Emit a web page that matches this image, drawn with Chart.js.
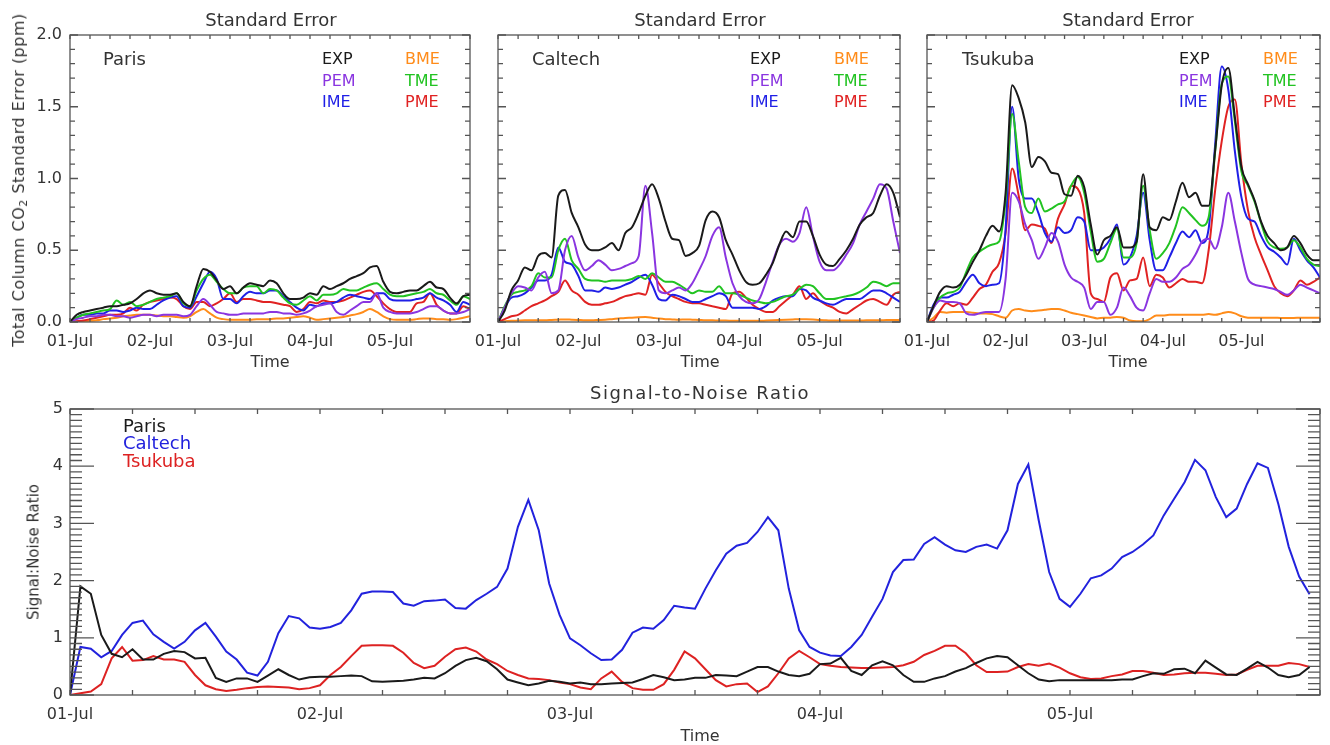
<!DOCTYPE html>
<html>
<head>
<meta charset="utf-8">
<script src="https://cdn.jsdelivr.net/npm/chart.js@4.4.1/dist/chart.umd.min.js"></script>
<style>
  body { margin: 0; background: #fff; }
  #wrap { position: relative; width: 1330px; height: 745px; overflow: hidden; background: #fff; }
  canvas { position: absolute; }
  .t { position: absolute; white-space: nowrap; font-family: 'DejaVu Sans', sans-serif; color: #333; line-height: 1; }
  .c { transform: translate(-50%, -50%); }
  .l { transform: translate(0, -50%); }
  .r { transform: translate(-50%, -50%) rotate(-90deg); }
</style>
</head>
<body>
<div id="wrap">
  <canvas id="pParis" width="480" height="375" style="left:0;top:0"></canvas>
  <canvas id="pCaltech" width="470" height="375" style="left:440px;top:0"></canvas>
  <canvas id="pTsukuba" width="460" height="375" style="left:870px;top:0"></canvas>
  <canvas id="pSnr" width="1330" height="365" style="left:0;top:380px"></canvas>

  <!-- top panel titles -->
  <div class="t c" style="left:271px;top:20px;font-size:18px">Standard Error</div>
  <div class="t c" style="left:700px;top:20px;font-size:18px">Standard Error</div>
  <div class="t c" style="left:1128px;top:20px;font-size:18px">Standard Error</div>
  <div class="t r" style="left:20px;top:180px;font-size:16px;letter-spacing:0.5px">Total Column CO<sub style="font-size:11px;vertical-align:-3px">2</sub> Standard Error (ppm)</div>
  <div class="t c" style="left:270px;top:362px;font-size:16px">Time</div>
  <div class="t c" style="left:700px;top:362px;font-size:16px">Time</div>
  <div class="t c" style="left:1128px;top:362px;font-size:16px">Time</div>

  <!-- station names -->
  <div class="t l" style="left:103px;top:59px;font-size:18px">Paris</div>
  <div class="t l" style="left:532px;top:59px;font-size:18px">Caltech</div>
  <div class="t l" style="left:962px;top:59px;font-size:18px">Tsukuba</div>

  <!-- legends, panel 1 -->
  <div class="t l" style="left:322px;top:59px;font-size:16px;color:#1a1a1a">EXP</div>
  <div class="t l" style="left:322px;top:81px;font-size:16px;color:#8a35e0">PEM</div>
  <div class="t l" style="left:322px;top:102px;font-size:16px;color:#1f1fe6">IME</div>
  <div class="t l" style="left:405px;top:59px;font-size:16px;color:#ff8c1a">BME</div>
  <div class="t l" style="left:405px;top:81px;font-size:16px;color:#22c322">TME</div>
  <div class="t l" style="left:405px;top:102px;font-size:16px;color:#e02222">PME</div>
  <!-- legends, panel 2 -->
  <div class="t l" style="left:750px;top:59px;font-size:16px;color:#1a1a1a">EXP</div>
  <div class="t l" style="left:750px;top:81px;font-size:16px;color:#8a35e0">PEM</div>
  <div class="t l" style="left:750px;top:102px;font-size:16px;color:#1f1fe6">IME</div>
  <div class="t l" style="left:834px;top:59px;font-size:16px;color:#ff8c1a">BME</div>
  <div class="t l" style="left:834px;top:81px;font-size:16px;color:#22c322">TME</div>
  <div class="t l" style="left:834px;top:102px;font-size:16px;color:#e02222">PME</div>
  <!-- legends, panel 3 -->
  <div class="t l" style="left:1179px;top:59px;font-size:16px;color:#1a1a1a">EXP</div>
  <div class="t l" style="left:1179px;top:81px;font-size:16px;color:#8a35e0">PEM</div>
  <div class="t l" style="left:1179px;top:102px;font-size:16px;color:#1f1fe6">IME</div>
  <div class="t l" style="left:1263px;top:59px;font-size:16px;color:#ff8c1a">BME</div>
  <div class="t l" style="left:1263px;top:81px;font-size:16px;color:#22c322">TME</div>
  <div class="t l" style="left:1263px;top:102px;font-size:16px;color:#e02222">PME</div>

  <!-- bottom panel -->
  <div class="t c" style="left:700px;top:393px;font-size:18px;letter-spacing:1.5px">Signal-to-Noise Ratio</div>
  <div class="t r" style="left:34px;top:552px;font-size:15px">Signal:Noise Ratio</div>
  <div class="t c" style="left:700px;top:736px;font-size:16px">Time</div>
  <div class="t l" style="left:123px;top:426px;font-size:18px;color:#1a1a1a">Paris</div>
  <div class="t l" style="left:123px;top:443px;font-size:18px;color:#2222dd">Caltech</div>
  <div class="t l" style="left:123px;top:461px;font-size:18px;color:#dd2222">Tsukuba</div>
</div>

<script>
// ---- data: time in hours since 01-Jul 00:00 ----
const hours2 = [0, 2, 4, 6, 8, 10, 12, 14, 16, 18, 20, 22, 24, 26, 28, 30, 32, 34, 36, 38,
  40, 42, 44, 46, 48, 50, 52, 54, 56, 58, 60, 62, 64, 66, 68, 70, 72, 74, 76, 78,
  80, 82, 84, 86, 88, 90, 92, 94, 96, 98, 100, 102, 104, 106, 108, 110, 112, 114, 116, 118, 120];
const hours1 = [0, 1, 2, 3, 4, 5, 6, 7, 8, 9, 10, 11, 12, 13, 14, 15, 16, 17, 18, 19,
  20, 21, 22, 23, 24, 25, 26, 27, 28, 29, 30, 31, 32, 33, 34, 35, 36, 37, 38, 39,
  40, 41, 42, 43, 44, 45, 46, 47, 48, 49, 50, 51, 52, 53, 54, 55, 56, 57, 58, 59,
  60, 61, 62, 63, 64, 65, 66, 67, 68, 69, 70, 71, 72, 73, 74, 75, 76, 77, 78, 79,
  80, 81, 82, 83, 84, 85, 86, 87, 88, 89, 90, 91, 92, 93, 94, 95, 96, 97, 98, 99,
  100, 101, 102, 103, 104, 105, 106, 107, 108, 109, 110, 111, 112, 113, 114, 115, 116, 117, 118, 119];
const dayLabels = ['01-Jul', '02-Jul', '03-Jul', '04-Jul', '05-Jul'];

// Paris standard error (ppm)
const parisEXP = [0, 0.05, 0.07, 0.08, 0.09, 0.1, 0.11, 0.11, 0.12, 0.13,
  0.16, 0.2, 0.22, 0.2, 0.19, 0.19, 0.2, 0.14, 0.11, 0.25,
  0.37, 0.35, 0.29, 0.23, 0.25, 0.2, 0.24, 0.27, 0.26, 0.25,
  0.29, 0.27, 0.2, 0.16, 0.16, 0.17, 0.2, 0.19, 0.25, 0.23,
  0.25, 0.27, 0.3, 0.32, 0.34, 0.38, 0.39, 0.28, 0.21, 0.2,
  0.21, 0.22, 0.22, 0.25, 0.28, 0.24, 0.23, 0.17, 0.13, 0.18, 0.19];
const parisPEM = [0, 0.02, 0.03, 0.04, 0.04, 0.05, 0.05, 0.04, 0.04, 0.03,
  0.04, 0.05, 0.05, 0.04, 0.05, 0.05, 0.05, 0.04, 0.05, 0.11,
  0.16, 0.12, 0.07, 0.06, 0.05, 0.05, 0.06, 0.06, 0.06, 0.06,
  0.07, 0.07, 0.06, 0.06, 0.05, 0.06, 0.08, 0.11, 0.12, 0.13,
  0.07, 0.05, 0.08, 0.11, 0.14, 0.14, 0.2, 0.1, 0.07, 0.06,
  0.06, 0.06, 0.07, 0.09, 0.11, 0.11, 0.08, 0.06, 0.06, 0.07, 0.09];
const parisIME = [0, 0.03, 0.05, 0.05, 0.06, 0.06, 0.08, 0.08, 0.07, 0.08,
  0.1, 0.09, 0.09, 0.12, 0.15, 0.17, 0.18, 0.11, 0.1, 0.18,
  0.27, 0.35, 0.3, 0.16, 0.16, 0.13, 0.18, 0.21, 0.2, 0.2,
  0.22, 0.22, 0.18, 0.14, 0.1, 0.08, 0.12, 0.11, 0.13, 0.13,
  0.14, 0.17, 0.19, 0.18, 0.17, 0.16, 0.2, 0.2, 0.16, 0.15,
  0.15, 0.15, 0.16, 0.17, 0.2, 0.17, 0.15, 0.12, 0.07, 0.14, 0.12];
const parisBME = [0, 0.003, 0.005, 0.008, 0.012, 0.02, 0.025, 0.03, 0.04, 0.045,
  0.05, 0.05, 0.05, 0.045, 0.04, 0.04, 0.035, 0.03, 0.04, 0.07,
  0.09, 0.06, 0.03, 0.02, 0.015, 0.015, 0.015, 0.015, 0.02, 0.02,
  0.02, 0.025, 0.025, 0.03, 0.035, 0.04, 0.03, 0.015, 0.02, 0.025,
  0.03, 0.035, 0.045, 0.055, 0.07, 0.09, 0.07, 0.04, 0.02, 0.015,
  0.015, 0.015, 0.02, 0.025, 0.025, 0.02, 0.02, 0.015, 0.02, 0.03, 0.04];
const parisTME = [0, 0.03, 0.05, 0.06, 0.07, 0.08, 0.09, 0.15, 0.12, 0.14,
  0.11, 0.12, 0.14, 0.16, 0.17, 0.18, 0.2, 0.13, 0.11, 0.22,
  0.3, 0.33, 0.28, 0.23, 0.2, 0.2, 0.24, 0.25, 0.25, 0.2,
  0.23, 0.22, 0.17, 0.13, 0.12, 0.15, 0.18, 0.15, 0.19, 0.19,
  0.2, 0.23, 0.22, 0.22, 0.24, 0.26, 0.27, 0.23, 0.19, 0.18,
  0.18, 0.19, 0.2, 0.21, 0.23, 0.2, 0.19, 0.15, 0.12, 0.18, 0.16];
const parisPME = [0, 0.005, 0.01, 0.02, 0.03, 0.04, 0.05, 0.05, 0.06, 0.1,
  0.08, 0.12, 0.14, 0.15, 0.16, 0.17, 0.16, 0.11, 0.09, 0.14,
  0.14, 0.11, 0.13, 0.16, 0.2, 0.14, 0.16, 0.16, 0.15, 0.14,
  0.14, 0.13, 0.12, 0.11, 0.07, 0.09, 0.14, 0.13, 0.15, 0.14,
  0.14, 0.15, 0.17, 0.19, 0.21, 0.22, 0.18, 0.13, 0.09, 0.07,
  0.07, 0.07, 0.13, 0.14, 0.2, 0.12, 0.08, 0.06, 0.06, 0.11, 0.09];

// Caltech standard error (ppm)
const caltechEXP = [0, 0.08, 0.22, 0.29, 0.38, 0.36, 0.46, 0.48, 0.45, 0.88,
  0.92, 0.76, 0.66, 0.54, 0.5, 0.5, 0.52, 0.55, 0.5, 0.62,
  0.66, 0.76, 0.88, 0.96, 0.86, 0.7, 0.58, 0.57, 0.46, 0.48,
  0.53, 0.71, 0.77, 0.73, 0.57, 0.47, 0.36, 0.28, 0.26, 0.27,
  0.33, 0.41, 0.54, 0.63, 0.59, 0.7, 0.7, 0.6, 0.47, 0.4,
  0.39, 0.44, 0.5, 0.58, 0.68, 0.73, 0.76, 0.88, 0.96, 0.9, 0.73];
const caltechPEM = [0, 0.1, 0.2, 0.25, 0.24, 0.22, 0.31, 0.35, 0.2, 0.22,
  0.5, 0.6, 0.45, 0.36, 0.39, 0.43, 0.4, 0.36, 0.37, 0.39,
  0.41, 0.46, 0.95, 0.62, 0.22, 0.2, 0.22, 0.24, 0.22, 0.27,
  0.36, 0.46, 0.6, 0.66, 0.45, 0.27, 0.18, 0.14, 0.13, 0.16,
  0.28, 0.42, 0.54, 0.58, 0.56, 0.62, 0.8, 0.6, 0.42, 0.36,
  0.36, 0.4, 0.47, 0.55, 0.68, 0.77, 0.86, 0.96, 0.93, 0.7, 0.48];
const caltechIME = [0, 0.1, 0.17, 0.18, 0.2, 0.24, 0.29, 0.29, 0.33, 0.52,
  0.42, 0.4, 0.32, 0.22, 0.22, 0.21, 0.24, 0.23, 0.24, 0.26,
  0.28, 0.31, 0.33, 0.26, 0.16, 0.15, 0.19, 0.18, 0.16, 0.14,
  0.14, 0.16, 0.18, 0.2, 0.18, 0.1, 0.1, 0.1, 0.1, 0.09,
  0.11, 0.15, 0.17, 0.18, 0.18, 0.23, 0.22, 0.17, 0.15, 0.13,
  0.12, 0.14, 0.16, 0.16, 0.16, 0.19, 0.22, 0.22, 0.2, 0.17, 0.14];
const caltechBME = [0, 0.005, 0.008, 0.01, 0.012, 0.012, 0.012, 0.012, 0.014, 0.016,
  0.018, 0.016, 0.014, 0.012, 0.012, 0.014, 0.016, 0.02, 0.024, 0.028,
  0.03, 0.033, 0.034, 0.03, 0.024, 0.02, 0.018, 0.016, 0.018, 0.016,
  0.014, 0.012, 0.012, 0.01, 0.01, 0.008, 0.008, 0.008, 0.008, 0.008,
  0.01, 0.012, 0.014, 0.016, 0.018, 0.02, 0.02, 0.018, 0.014, 0.012,
  0.01, 0.01, 0.01, 0.01, 0.01, 0.012, 0.012, 0.012, 0.014, 0.014, 0.014];
const caltechTME = [0, 0.11, 0.19, 0.21, 0.22, 0.25, 0.34, 0.31, 0.31, 0.5,
  0.58, 0.43, 0.37, 0.3, 0.29, 0.29, 0.28, 0.29, 0.29, 0.29,
  0.3, 0.32, 0.3, 0.34, 0.31, 0.28, 0.28, 0.26, 0.23, 0.2,
  0.22, 0.21, 0.21, 0.25, 0.2, 0.2, 0.19, 0.17, 0.15, 0.14,
  0.13, 0.14, 0.16, 0.18, 0.19, 0.23, 0.26, 0.25, 0.2, 0.16,
  0.16, 0.17, 0.18, 0.19, 0.21, 0.24, 0.28, 0.27, 0.25, 0.27, 0.27];
const caltechPME = [0, 0.02, 0.04, 0.05, 0.08, 0.11, 0.13, 0.15, 0.18, 0.21,
  0.29, 0.22, 0.19, 0.14, 0.12, 0.12, 0.13, 0.14, 0.16, 0.18,
  0.19, 0.2, 0.19, 0.33, 0.27, 0.21, 0.18, 0.16, 0.14, 0.13,
  0.13, 0.12, 0.11, 0.1, 0.09, 0.2, 0.21, 0.17, 0.12, 0.09,
  0.07, 0.07, 0.11, 0.15, 0.19, 0.25, 0.16, 0.2, 0.15, 0.12,
  0.1, 0.07, 0.06, 0.09, 0.12, 0.15, 0.16, 0.14, 0.12, 0.19, 0.21];

// Tsukuba standard error (ppm)
const tsukubaEXP = [0, 0.11, 0.21, 0.25, 0.24, 0.26, 0.33, 0.42, 0.5, 0.6,
  0.67, 0.63, 0.9, 1.65, 1.56, 1.39, 1.08, 1.15, 1.12, 1.04,
  1.03, 0.89, 0.88, 1.02, 0.94, 0.68, 0.47, 0.57, 0.6, 0.66,
  0.52, 0.52, 0.56, 1.03, 0.66, 0.64, 0.73, 0.71, 0.84, 0.97,
  0.87, 0.9, 0.81, 0.81, 1.2, 1.65, 1.77, 1.43, 1.08, 0.96,
  0.85, 0.7, 0.6, 0.55, 0.5, 0.52, 0.6, 0.55, 0.47, 0.43, 0.43];
const tsukubaPEM = [0, 0.1, 0.15, 0.14, 0.14, 0.13, 0.06, 0.05, 0.06, 0.07,
  0.07, 0.07, 0.3, 0.9, 0.84, 0.68, 0.57, 0.44, 0.52, 0.62,
  0.56, 0.4, 0.31, 0.28, 0.24, 0.09, 0.14, 0.14, 0.05, 0.1,
  0.24, 0.18, 0.1, 0.08, 0.2, 0.3, 0.28, 0.28, 0.31, 0.37,
  0.4, 0.47, 0.56, 0.58, 0.51, 0.66, 0.9, 0.7, 0.48, 0.3,
  0.26, 0.25, 0.24, 0.23, 0.21, 0.19, 0.22, 0.26, 0.24, 0.22, 0.2];
const tsukubaIME = [0, 0.12, 0.17, 0.17, 0.19, 0.21, 0.28, 0.33, 0.27, 0.25,
  0.26, 0.27, 0.65, 1.5, 1.0, 0.86, 0.86, 0.76, 0.62, 0.56,
  0.66, 0.62, 0.64, 0.73, 0.7, 0.5, 0.5, 0.52, 0.58, 0.68,
  0.4, 0.45, 0.6, 0.9, 0.57, 0.36, 0.36, 0.45, 0.55, 0.63,
  0.59, 0.64, 0.55, 0.65, 1.24, 1.78, 1.62, 1.19, 0.87, 0.72,
  0.7, 0.6, 0.52, 0.49, 0.45, 0.4, 0.58, 0.5, 0.43, 0.38, 0.31];
const tsukubaBME = [0, 0.03, 0.07, 0.065, 0.07, 0.07, 0.07, 0.065, 0.06, 0.06,
  0.055, 0.04, 0.03, 0.08, 0.09, 0.08, 0.075, 0.08, 0.085, 0.09,
  0.09, 0.08, 0.065, 0.055, 0.045, 0.035, 0.025, 0.03, 0.03, 0.035,
  0.03, 0.01, 0.005, 0.005, 0.02, 0.045, 0.045, 0.05, 0.05, 0.05,
  0.05, 0.05, 0.05, 0.055, 0.05, 0.06, 0.07, 0.06, 0.04, 0.03,
  0.03, 0.03, 0.03, 0.03, 0.028, 0.028, 0.028, 0.03, 0.03, 0.03, 0.03];
const tsukubaTME = [0, 0.1, 0.17, 0.2, 0.21, 0.24, 0.35, 0.45, 0.49, 0.52,
  0.54, 0.56, 0.85, 1.45, 1.12, 0.8, 0.76, 0.86, 0.77, 0.79,
  0.82, 0.84, 0.95, 1.01, 0.9, 0.63, 0.42, 0.44, 0.55, 0.65,
  0.45, 0.45, 0.55, 0.95, 0.64, 0.44, 0.48, 0.55, 0.67, 0.8,
  0.76, 0.71, 0.67, 0.73, 1.19, 1.66, 1.71, 1.4, 1.05, 0.95,
  0.84, 0.69, 0.56, 0.52, 0.51, 0.52, 0.57, 0.52, 0.44, 0.4, 0.39];
const tsukubaPME = [0, 0.01, 0.08, 0.13, 0.11, 0.13, 0.12, 0.17, 0.23, 0.26,
  0.35, 0.41, 0.62, 1.07, 0.88, 0.64, 0.68, 0.67, 0.65, 0.55,
  0.72, 0.82, 0.95, 0.93, 0.76, 0.2, 0.16, 0.14, 0.31, 0.34,
  0.22, 0.29, 0.3, 0.45, 0.25, 0.33, 0.31, 0.24, 0.27, 0.3,
  0.28, 0.28, 0.27, 0.5, 0.92, 1.26, 1.5, 1.55, 1.1, 0.78,
  0.59, 0.47, 0.36, 0.25, 0.2, 0.18, 0.22, 0.29, 0.26, 0.28, 0.31];

// Signal-to-noise ratio, hourly
const parisSNR = [0, 1.9, 1.77, 1.05, 0.72, 0.66, 0.8, 0.62, 0.62, 0.72,
  0.77, 0.75, 0.64, 0.65, 0.3, 0.23, 0.29, 0.29, 0.23, 0.34,
  0.45, 0.35, 0.27, 0.31, 0.32, 0.32, 0.33, 0.34, 0.33, 0.24,
  0.23, 0.24, 0.25, 0.27, 0.3, 0.29, 0.38, 0.51, 0.61, 0.65,
  0.59, 0.45, 0.27, 0.22, 0.17, 0.2, 0.25, 0.23, 0.2, 0.22,
  0.19, 0.19, 0.2, 0.21, 0.22, 0.28, 0.35, 0.31, 0.26, 0.27,
  0.3, 0.3, 0.35, 0.34, 0.33, 0.41, 0.49, 0.49, 0.41, 0.35,
  0.33, 0.37, 0.54, 0.55, 0.65, 0.42, 0.35, 0.52, 0.59, 0.52,
  0.35, 0.23, 0.23, 0.29, 0.33, 0.41, 0.47, 0.56, 0.64, 0.68,
  0.66, 0.52, 0.38, 0.27, 0.24, 0.26, 0.26, 0.26, 0.26, 0.26,
  0.26, 0.27, 0.27, 0.33, 0.38, 0.37, 0.45, 0.46, 0.38, 0.6,
  0.48, 0.36, 0.35, 0.46, 0.58, 0.48, 0.35, 0.31, 0.35, 0.49];
const caltechSNR = [0, 0.84, 0.81, 0.66, 0.77, 1.05, 1.26, 1.3, 1.06, 0.93,
  0.81, 0.93, 1.13, 1.26, 1.02, 0.76, 0.62, 0.39, 0.34, 0.58,
  1.08, 1.38, 1.34, 1.18, 1.16, 1.19, 1.26, 1.48, 1.77, 1.81,
  1.81, 1.8, 1.6, 1.56, 1.64, 1.65, 1.67, 1.52, 1.51, 1.66,
  1.77, 1.89, 2.21, 2.94, 3.41, 2.88, 1.95, 1.4, 0.99, 0.87,
  0.73, 0.61, 0.62, 0.79, 1.09, 1.18, 1.16, 1.31, 1.56, 1.53,
  1.51, 1.86, 2.18, 2.47, 2.61, 2.66, 2.85, 3.11, 2.88, 1.86,
  1.13, 0.84, 0.74, 0.69, 0.68, 0.84, 1.05, 1.37, 1.68, 2.15,
  2.36, 2.37, 2.64, 2.76, 2.63, 2.53, 2.5, 2.59, 2.63, 2.56,
  2.88, 3.69, 4.03, 3.05, 2.15, 1.68, 1.54, 1.77, 2.04, 2.09,
  2.21, 2.41, 2.5, 2.63, 2.79, 3.14, 3.43, 3.72, 4.11, 3.93,
  3.46, 3.11, 3.26, 3.69, 4.05, 3.97, 3.34, 2.59, 2.07, 1.76];
const tsukubaSNR = [0, 0.03, 0.06, 0.19, 0.64, 0.84, 0.6, 0.61, 0.68, 0.62,
  0.62, 0.58, 0.35, 0.17, 0.1, 0.07, 0.09, 0.12, 0.14, 0.15,
  0.14, 0.13, 0.1, 0.12, 0.17, 0.35, 0.49, 0.68, 0.86, 0.87,
  0.87, 0.86, 0.74, 0.56, 0.47, 0.51, 0.67, 0.8, 0.83, 0.76,
  0.62, 0.54, 0.42, 0.35, 0.29, 0.28, 0.26, 0.22, 0.19, 0.13,
  0.1, 0.29, 0.41, 0.23, 0.12, 0.09, 0.09, 0.19, 0.44, 0.76,
  0.64, 0.45, 0.26, 0.15, 0.19, 0.2, 0.05, 0.15, 0.38, 0.64,
  0.77, 0.66, 0.54, 0.51, 0.49, 0.48, 0.47, 0.47, 0.48, 0.49,
  0.52, 0.58, 0.7, 0.77, 0.86, 0.86, 0.73, 0.52, 0.4, 0.4,
  0.41, 0.49, 0.54, 0.51, 0.55, 0.48, 0.38, 0.31, 0.28, 0.29,
  0.33, 0.36, 0.42, 0.42, 0.39, 0.35, 0.36, 0.38, 0.39, 0.39,
  0.37, 0.35, 0.36, 0.44, 0.51, 0.51, 0.51, 0.56, 0.54, 0.49];

const seColors = { EXP: '#1a1a1a', PEM: '#8a35e0', IME: '#1f1fe6', BME: '#ff8c1a', TME: '#22c322', PME: '#e02222' };

Chart.defaults.font.family = "'DejaVu Sans', sans-serif";
Chart.defaults.font.size = 16;
Chart.defaults.color = '#333';

const isMajor = (v, step) => Math.abs(v / step - Math.round(v / step)) < 1e-6;
const dayTick = v => (v % 24 === 0 && v / 24 < dayLabels.length) ? dayLabels[v / 24] : '';

// IDL-like box with inward ticks on all four sides
const boxTicks = {
  id: 'boxTicks',
  afterDatasetsDraw(chart, args, o) {
    const { ctx, chartArea: a, scales: { x, y } } = chart;
    ctx.save();
    ctx.strokeStyle = '#555';
    ctx.lineWidth = 1.3;
    ctx.strokeRect(a.left, a.top, a.right - a.left, a.bottom - a.top);
    ctx.beginPath();
    x.ticks.forEach(t => {
      const px = x.getPixelForValue(t.value);
      const len = isMajor(t.value, 24) ? o.xMajor : o.xMinor;
      ctx.moveTo(px, a.bottom); ctx.lineTo(px, a.bottom - len);
      ctx.moveTo(px, a.top); ctx.lineTo(px, a.top + len);
    });
    y.ticks.forEach(t => {
      const py = y.getPixelForValue(t.value);
      const len = isMajor(t.value, o.yStep) ? o.yMajor : o.yMinor;
      ctx.moveTo(a.left, py); ctx.lineTo(a.left + len, py);
      ctx.moveTo(a.right, py); ctx.lineTo(a.right - len, py);
    });
    ctx.stroke();
    ctx.restore();
  }
};

function sePanel(id, series, yWidth, padRight, showY) {
  const order = ['EXP', 'PEM', 'TME', 'IME', 'PME', 'BME'];
  return new Chart(document.getElementById(id), {
    type: 'line',
    data: {
      labels: hours2,
      datasets: order.map(n => ({
        label: n, data: series[n], borderColor: seColors[n], borderWidth: 2,
        pointRadius: 0, fill: false, cubicInterpolationMode: 'monotone'
      }))
    },
    options: {
      responsive: false, animation: false, events: [],
      layout: { padding: { top: 35, right: padRight, left: 0, bottom: 0 } },
      plugins: {
        legend: { display: false }, tooltip: { enabled: false },
        boxTicks: { xMajor: 4, xMinor: 4, yMajor: 8, yMinor: 5, yStep: 0.5 }
      },
      scales: {
        x: {
          type: 'linear', min: 0, max: 120,
          ticks: { stepSize: 6, autoSkip: false, maxRotation: 0, padding: 10, callback: dayTick },
          grid: { display: false, drawTicks: false }, border: { display: false },
          afterFit: s => { s.height = 53; }
        },
        y: {
          min: 0, max: 2,
          ticks: { stepSize: 0.1, autoSkip: false, padding: 8,
            callback: v => (showY && isMajor(v, 0.5)) ? v.toFixed(1) : '' },
          grid: { display: false, drawTicks: false }, border: { display: false },
          afterFit: s => { s.width = yWidth; }
        }
      }
    },
    plugins: [boxTicks]
  });
}

sePanel('pParis', { EXP: parisEXP, PEM: parisPEM, IME: parisIME, BME: parisBME, TME: parisTME, PME: parisPME }, 70, 8, true);
sePanel('pCaltech', { EXP: caltechEXP, PEM: caltechPEM, IME: caltechIME, BME: caltechBME, TME: caltechTME, PME: caltechPME }, 58, 9, false);
sePanel('pTsukuba', { EXP: tsukubaEXP, PEM: tsukubaPEM, IME: tsukubaIME, BME: tsukubaBME, TME: tsukubaTME, PME: tsukubaPME }, 57, 1, false);

// Signal-to-noise panel
new Chart(document.getElementById('pSnr'), {
  type: 'line',
  data: {
    labels: hours1,
    datasets: [
      { label: 'Paris', data: parisSNR, borderColor: '#1a1a1a', borderWidth: 2, pointRadius: 0, tension: 0 },
      { label: 'Caltech', data: caltechSNR, borderColor: '#2222dd', borderWidth: 2, pointRadius: 0, tension: 0 },
      { label: 'Tsukuba', data: tsukubaSNR, borderColor: '#dd2222', borderWidth: 2, pointRadius: 0, tension: 0 }
    ]
  },
  options: {
    responsive: false, animation: false, events: [],
    layout: { padding: { top: 29, right: 1, left: 0, bottom: 0 } },
    plugins: {
      legend: { display: false }, tooltip: { enabled: false },
      boxTicks: { xMajor: 5, xMinor: 5, yMajor: 24, yMinor: 12, yStep: 1 }
    },
    scales: {
      x: {
        type: 'linear', min: 0, max: 120,
        ticks: { stepSize: 6, autoSkip: false, maxRotation: 0, padding: 10, callback: dayTick },
        grid: { display: false, drawTicks: false }, border: { display: false },
        afterFit: s => { s.height = 50; }
      },
      y: {
        min: 0, max: 5,
        ticks: { stepSize: 0.1, autoSkip: false, padding: 7,
          callback: v => isMajor(v, 1) ? String(Math.round(v)) : '' },
        grid: { display: false, drawTicks: false }, border: { display: false },
        afterFit: s => { s.width = 70; }
      }
    }
  },
  plugins: [boxTicks]
});
</script>
</body>
</html>
